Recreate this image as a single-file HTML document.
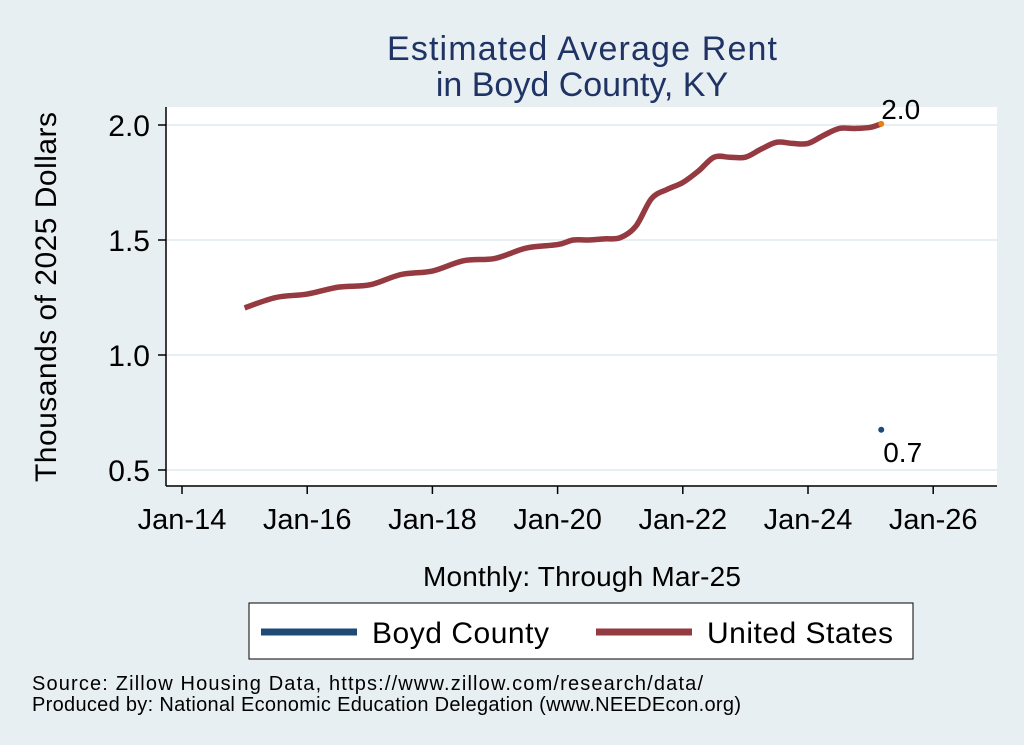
<!DOCTYPE html>
<html><head><meta charset="utf-8"><style>
body{margin:0;background:#e8eff3;}
svg{display:block;font-family:"Liberation Sans",sans-serif;}
</style></head><body>
<svg id="c" width="1024" height="745">
<rect x="0" y="0" width="1024" height="745" fill="#e8eff3"/>
<text x="582" y="60" text-anchor="middle" font-size="34" textLength="390" fill="#1f3464">Estimated Average Rent</text>
<text x="582" y="96" text-anchor="middle" font-size="34" fill="#1f3464">in Boyd County, KY</text>
<rect x="166" y="107" width="831" height="378" fill="#fff"/>
<g id="grid"></g>
<line x1="166" y1="107" x2="166" y2="486" stroke="#000" stroke-width="1.5"/>
<line x1="166" y1="486" x2="997" y2="486" stroke="#000" stroke-width="1.5"/>
<g id="ticks"></g>
<g id="marks"></g>
<text x="56" y="297" transform="rotate(-90 56 297)" text-anchor="middle" font-size="30" textLength="370">Thousands of 2025 Dollars</text>
<text x="582" y="586" text-anchor="middle" font-size="28" textLength="318">Monthly: Through Mar-25</text>
<g>
<rect x="249" y="603" width="664" height="56" fill="#fff" stroke="#000" stroke-width="1"/>
<line x1="261" y1="632" x2="357" y2="632" stroke="#1e4a75" stroke-width="7"/>
<text x="372" y="643" font-size="30" textLength="177">Boyd County</text>
<line x1="596" y1="632" x2="692" y2="632" stroke="#943a40" stroke-width="7"/>
<text x="707" y="643" font-size="30" textLength="186">United States</text>
</g>
<text x="32" y="690" font-size="20" textLength="671">Source: Zillow Housing Data, https://www.zillow.com/research/data/</text>
<text x="32" y="711" font-size="20" textLength="709">Produced by: National Economic Education Delegation (www.NEEDEcon.org)</text>
</svg>
<script>
const usDates=[2015.0,2015.5,2016.0,2016.5,2017.0,2017.5,2018.0,2018.5,2019.0,2019.5,2020.0,2020.25,2020.5,2020.75,2021.0,2021.25,2021.5,2021.75,2022.0,2022.25,2022.5,2022.75,2023.0,2023.25,2023.5,2023.75,2024.0,2024.25,2024.5,2024.75,2025.0,2025.17];
const usValues=[1.205,1.25,1.265,1.295,1.305,1.35,1.365,1.41,1.42,1.465,1.48,1.5,1.5,1.505,1.51,1.56,1.68,1.72,1.75,1.80,1.86,1.86,1.86,1.895,1.925,1.92,1.92,1.955,1.985,1.985,1.99,2.005];
const boydDates=[2025.17];
const boydValues=[0.675];
const yTicks=[0.5,1.0,1.5,2.0];
const xTickYears=[2014,2016,2018,2020,2022,2024,2026];
const xTickLabels=["Jan-14","Jan-16","Jan-18","Jan-20","Jan-22","Jan-24","Jan-26"];
const NS="http://www.w3.org/2000/svg";
function X(t){return 182+(t-2014)*62.6;}
function Y(v){return 470-(v-0.5)*230;}
function mk(tag,attrs,parent){const e=document.createElementNS(NS,tag);for(const k in attrs)e.setAttribute(k,attrs[k]);document.getElementById(parent).appendChild(e);return e;}
yTicks.forEach(v=>{
 const g=mk('line',{x1:166,x2:997,y1:Y(v),y2:Y(v),stroke:'#e8eff3','stroke-width':2},'grid');
 
 
 const t=mk('line',{x1:158,x2:166,y1:Y(v),y2:Y(v),stroke:'#000','stroke-width':1.5},'ticks');
 
 
 const l=mk('text',{x:150,y:Y(v)+11,'text-anchor':'end','font-size':30},'ticks');
 l.textContent=v.toFixed(1);
 
 
});
xTickYears.forEach((yr,i)=>{
 const t=mk('line',{x1:X(yr),x2:X(yr),y1:486,y2:494,stroke:'#000','stroke-width':1.5},'ticks');
 
 
 const l=mk('text',{x:X(yr),y:529,'text-anchor':'middle','font-size':29},'ticks');
 l.textContent=xTickLabels[i];
 
 
});
const pts=usDates.map((d,i)=>[X(d),Y(usValues[i])]);
let d='M'+pts[0][0]+','+pts[0][1];
for(let i=0;i<pts.length-1;i++){
 const p0=pts[Math.max(0,i-1)],p1=pts[i],p2=pts[i+1],p3=pts[Math.min(pts.length-1,i+2)];
 const c1=[p1[0]+(p2[0]-p0[0])/6,p1[1]+(p2[1]-p0[1])/6];
 const c2=[p2[0]-(p3[0]-p1[0])/6,p2[1]-(p3[1]-p1[1])/6];
 d+=' C'+c1[0]+','+c1[1]+' '+c2[0]+','+c2[1]+' '+p2[0]+','+p2[1];
}
const line=mk('path',{d:d,fill:'none',stroke:'#943a40','stroke-width':5.5,'stroke-linejoin':'round'},'marks');


const last=pts[pts.length-1];
const ed=mk('circle',{cx:last[0],cy:last[1],r:3,fill:'#e8820c'},'marks');


const el=mk('text',{x:last[0],y:last[1]-5,'font-size':28},'marks');
el.textContent=usValues[usValues.length-1].toFixed(1);


boydDates.forEach((bd,i)=>{
 const c=mk('circle',{cx:X(bd),cy:Y(boydValues[i]),r:3,fill:'#1e4a75'},'marks');
 
 
 const t=mk('text',{x:X(bd)+2,y:Y(boydValues[i])+32,'font-size':28},'marks');
 t.textContent=boydValues[i].toFixed(1);
 
 
});
</script>
</body></html>
